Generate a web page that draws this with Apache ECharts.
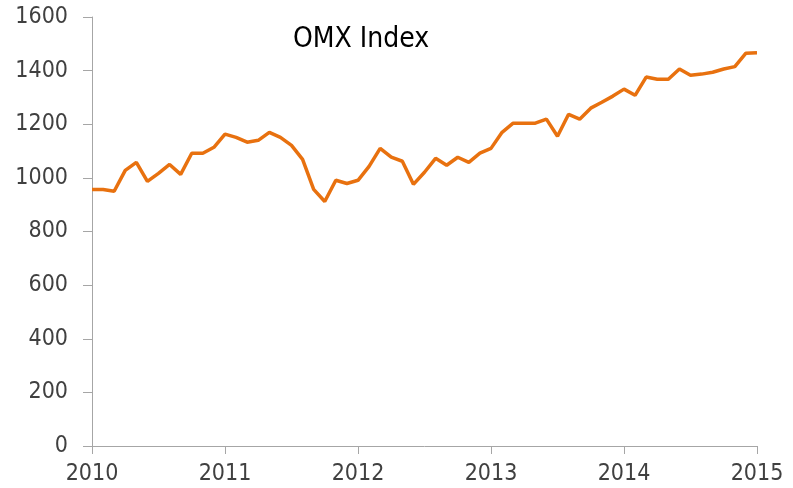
<!DOCTYPE html>
<html>
<head>
<meta charset="utf-8">
<script src="https://cdn.jsdelivr.net/npm/echarts@6/dist/echarts.min.js"></script>
<style>
  html, body { margin: 0; padding: 0; background: #fff; }
  #chart { width: 793px; height: 488px; }
</style>
</head>
<body>
<div id="chart"></div>
<script>
// monthly points, Jan 2010 .. Jan 2015
const months = []
for (let y = 2010; y <= 2015; y++) {
  for (let m = 1; m <= 12; m++) {
    if (y === 2015 && m > 1) break
    months.push(y + '-' + String(m).padStart(2, '0'))
  }
}

const omxValues = [
  957, 957, 950, 1028, 1058, 987, 1017, 1050, 1013, 1092, 1092, 1114,
  1163, 1151, 1133, 1140, 1170, 1151, 1121, 1069, 957, 912, 991, 979,
  991, 1043, 1110, 1077, 1062, 976, 1021, 1073, 1047, 1077, 1058, 1092,
  1110, 1170, 1204, 1204, 1204, 1219, 1155, 1237, 1219, 1260, 1282, 1305,
  1331, 1308, 1376, 1368, 1368, 1406, 1383, 1387, 1394, 1406, 1415, 1465,
  1467
]

const yTicks = [0, 200, 400, 600, 800, 1000, 1200, 1400, 1600]
const titleText = 'OMX Index'

const chart = echarts.init(document.getElementById('chart'))

const labelFont = {
  fontFamily: 'DejaVu Sans Condensed, Liberation Sans Narrow, sans-serif',
  fontSize: 23,
  color: '#404040'
}

chart.setOption({
  animation: false,
  title: {
    text: titleText,
    left: 288,
    top: 21,
    textStyle: {
      fontFamily: 'DejaVu Sans Condensed, Liberation Sans Narrow, sans-serif',
      fontSize: 28,
      fontWeight: 'normal',
      color: '#000'
    }
  },
  grid: { left: 92, right: 36, top: 17, bottom: 42, containLabel: false },
  xAxis: {
    type: 'category',
    data: months,
    boundaryGap: false,
    axisLine: { lineStyle: { color: '#a6a6a6', width: 1 } },
    axisTick: { show: true, interval: 11, length: 8, lineStyle: { color: '#a6a6a6' } },
    axisLabel: Object.assign({
      interval: 11,
      margin: 17,
      formatter: v => v.slice(0, 4)
    }, labelFont),
    splitLine: { show: false }
  },
  yAxis: {
    type: 'value',
    min: yTicks[0],
    max: yTicks[yTicks.length - 1],
    interval: 200,
    axisLine: { show: true, lineStyle: { color: '#a6a6a6', width: 1 } },
    axisTick: { show: true, length: 9, lineStyle: { color: '#a6a6a6' } },
    axisLabel: Object.assign({ margin: 24, formatter: v => String(v) }, labelFont),
    splitLine: { show: false }
  },
  series: [{
    name: titleText,
    type: 'line',
    data: omxValues,
    showSymbol: false,
    lineStyle: { color: '#e8710f', width: 3.5 },
    itemStyle: { color: '#e8710f' }
  }]
})
</script>
</body>
</html>
